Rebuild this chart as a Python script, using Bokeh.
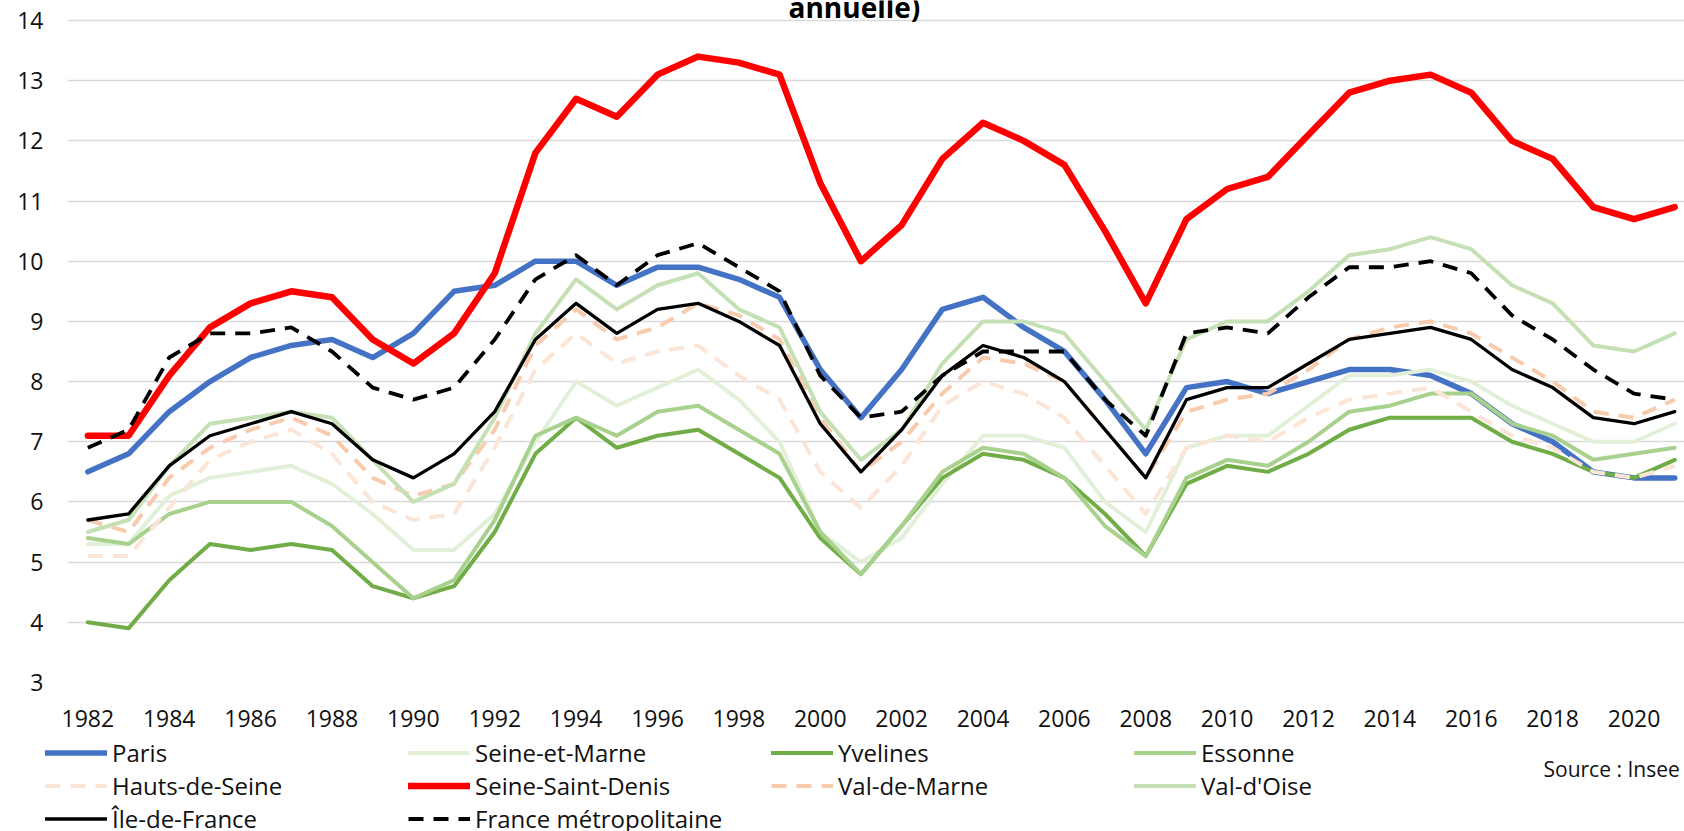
from bokeh.plotting import figure
from bokeh.layouts import column
from bokeh.models import FixedTicker, Legend, LegendItem, Label, Range1d
from bokeh.embed import file_html
from bokeh.resources import INLINE

years = list(range(1982, 2022))

paris = [6.5, 6.8, 7.5, 8.0, 8.4, 8.6, 8.7, 8.4, 8.8, 9.5, 9.6, 10.0, 10.0, 9.6, 9.9, 9.9, 9.7, 9.4, 8.2, 7.4,
         8.2, 9.2, 9.4, 8.9, 8.5, 7.7, 6.8, 7.9, 8.0, 7.8, 8.0, 8.2, 8.2, 8.1, 7.8, 7.3, 7.0, 6.5, 6.4, 6.4]
seine_et_marne = [5.3, 5.3, 6.1, 6.4, 6.5, 6.6, 6.3, 5.8, 5.2, 5.2, 5.8, 7.0, 8.0, 7.6, 7.9, 8.2, 7.7, 7.0, 5.5, 5.0,
                  5.4, 6.3, 7.1, 7.1, 6.9, 6.0, 5.5, 6.9, 7.1, 7.1, 7.6, 8.1, 8.1, 8.2, 8.0, 7.6, 7.3, 7.0, 7.0, 7.3]
yvelines = [4.0, 3.9, 4.7, 5.3, 5.2, 5.3, 5.2, 4.6, 4.4, 4.6, 5.5, 6.8, 7.4, 6.9, 7.1, 7.2, 6.8, 6.4, 5.4, 4.8,
            5.6, 6.4, 6.8, 6.7, 6.4, 5.8, 5.1, 6.3, 6.6, 6.5, 6.8, 7.2, 7.4, 7.4, 7.4, 7.0, 6.8, 6.5, 6.4, 6.7]
essonne = [5.4, 5.3, 5.8, 6.0, 6.0, 6.0, 5.6, 5.0, 4.4, 4.7, 5.7, 7.1, 7.4, 7.1, 7.5, 7.6, 7.2, 6.8, 5.5, 4.8,
           5.6, 6.5, 6.9, 6.8, 6.4, 5.6, 5.1, 6.4, 6.7, 6.6, 7.0, 7.5, 7.6, 7.8, 7.8, 7.3, 7.1, 6.7, 6.8, 6.9]
hauts_de_seine = [5.1, 5.1, 5.9, 6.7, 7.0, 7.2, 6.8, 6.0, 5.7, 5.8, 6.9, 8.2, 8.8, 8.3, 8.5, 8.6, 8.1, 7.7, 6.5, 5.9,
                  6.6, 7.6, 8.0, 7.8, 7.4, 6.6, 5.8, 6.9, 7.1, 7.0, 7.4, 7.7, 7.8, 7.9, 7.5, 7.1, 6.9, 6.5, 6.4, 6.6]
seine_saint_denis = [7.1, 7.1, 8.1, 8.9, 9.3, 9.5, 9.4, 8.7, 8.3, 8.8, 9.8, 11.8, 12.7, 12.4, 13.1, 13.4, 13.3, 13.1, 11.3, 10.0,
                     10.6, 11.7, 12.3, 12.0, 11.6, 10.5, 9.3, 10.7, 11.2, 11.4, 12.1, 12.8, 13.0, 13.1, 12.8, 12.0, 11.7, 10.9, 10.7, 10.9]
val_de_marne = [5.7, 5.5, 6.4, 6.9, 7.2, 7.4, 7.1, 6.4, 6.1, 6.3, 7.2, 8.6, 9.2, 8.7, 8.9, 9.3, 9.1, 8.7, 7.4, 6.5,
                7.0, 7.8, 8.4, 8.3, 8.0, 7.2, 6.4, 7.5, 7.7, 7.8, 8.2, 8.7, 8.9, 9.0, 8.8, 8.4, 8.0, 7.5, 7.4, 7.7]
val_d_oise = [5.5, 5.7, 6.6, 7.3, 7.4, 7.5, 7.4, 6.7, 6.0, 6.3, 7.4, 8.8, 9.7, 9.2, 9.6, 9.8, 9.2, 8.9, 7.5, 6.7,
              7.2, 8.3, 9.0, 9.0, 8.8, 8.0, 7.2, 8.7, 9.0, 9.0, 9.5, 10.1, 10.2, 10.4, 10.2, 9.6, 9.3, 8.6, 8.5, 8.8]
ile_de_france = [5.7, 5.8, 6.6, 7.1, 7.3, 7.5, 7.3, 6.7, 6.4, 6.8, 7.5, 8.7, 9.3, 8.8, 9.2, 9.3, 9.0, 8.6, 7.3, 6.5,
                 7.2, 8.1, 8.6, 8.4, 8.0, 7.2, 6.4, 7.7, 7.9, 7.9, 8.3, 8.7, 8.8, 8.9, 8.7, 8.2, 7.9, 7.4, 7.3, 7.5]
france_metro = [6.9, 7.2, 8.4, 8.8, 8.8, 8.9, 8.5, 7.9, 7.7, 7.9, 8.7, 9.7, 10.1, 9.6, 10.1, 10.3, 9.9, 9.5, 8.1, 7.4,
                7.5, 8.1, 8.5, 8.5, 8.5, 7.7, 7.1, 8.8, 8.9, 8.8, 9.4, 9.9, 9.9, 10.0, 9.8, 9.1, 8.7, 8.2, 7.8, 7.7]

names = ["Paris", "Seine-et-Marne", "Yvelines", "Essonne", "Hauts-de-Seine", "Seine-Saint-Denis",
         "Val-de-Marne", "Val-d'Oise", "Île-de-France", "France métropolitaine"]
values = [paris, seine_et_marne, yvelines, essonne, hauts_de_seine, seine_saint_denis,
          val_de_marne, val_d_oise, ile_de_france, france_metro]
colors = ["#4472c4", "#e2f0d9", "#70ad47", "#a9d18e", "#fbe5d6", "#ff0000",
          "#f8cbad", "#c5e0b4", "#000000", "#000000"]
widths = [5.5, 4, 4, 4, 4, 6.5, 4, 4, 3.3, 3.8]
dashes = ["solid", "solid", "solid", "solid", "15 10", "solid", "15 10", "solid", "solid", "15 10"]

x_ticks = list(range(1982, 2021, 2))
y_ticks = list(range(3, 15))

title_text = "annuelle)"
source_text = "Source : Insee"

FONT = "Open Sans"
W = 1684
H_MAIN = 736
H_LEG = 831 - H_MAIN

p = figure(width=W, height=H_MAIN, output_backend="svg", toolbar_location=None,
           x_range=Range1d(1981.5, 2021.24), y_range=Range1d(3, 14.332),
           min_border_left=67, min_border_right=0, min_border_top=0, min_border_bottom=H_MAIN - 682)
p.outline_line_color = None
p.background_fill_color = "white"
p.border_fill_color = "white"
p.frame_align = False

p.xaxis.ticker = FixedTicker(ticks=x_ticks)
p.yaxis.ticker = FixedTicker(ticks=y_ticks)
for ax in (p.xaxis[0], p.yaxis[0]):
    ax.axis_line_color = None
    ax.major_tick_line_color = None
    ax.minor_tick_line_color = None
    ax.major_tick_out = 0
    ax.major_tick_in = 0
    ax.major_label_text_font = FONT
    ax.major_label_text_font_size = "23px"
    ax.major_label_text_color = "#111111"
p.xaxis.major_label_standoff = 27
p.yaxis.major_label_standoff = 24

p.xgrid.grid_line_color = None
p.ygrid.grid_line_color = "#d9d9d9"
p.ygrid.grid_line_width = 1.5

for vals, col, w, d in zip(values, colors, widths, dashes):
    if d == "solid":
        p.line(years, vals, line_color=col, line_width=w, line_join="round", line_cap="round")
    else:
        p.line(years, vals, line_color=col, line_width=w, line_dash=d, line_join="round")

p.add_layout(Label(x=2000.84, y=14.232, text=title_text, text_align="center", text_baseline="alphabetic",
                   text_font=FONT, text_font_style="bold", text_font_size="28px", text_color="#000000"))

# legend strip below the chart (its own frame, spanning the full width)
p2 = figure(width=W, height=H_LEG, output_backend="svg", toolbar_location=None,
            x_range=Range1d(0, W), y_range=Range1d(0, H_LEG),
            x_axis_location=None, y_axis_location=None,
            min_border_left=0, min_border_right=0, min_border_top=0, min_border_bottom=0)
p2.frame_align = False
p2.outline_line_color = None
p2.xgrid.grid_line_color = None
p2.ygrid.grid_line_color = None
p2.background_fill_color = "white"
p2.border_fill_color = "white"

# legend proxies: same series, lying outside this strip's x range (so only the legend shows them)
proxies = []
for vals, col, w, d in zip(values, colors, widths, dashes):
    if d == "solid":
        r = p2.line(years, vals, line_color=col, line_width=w, line_cap="round")
    else:
        r = p2.line(years, vals, line_color=col, line_width=w, line_dash=d)
    proxies.append(r)

items = [LegendItem(label=n, renderers=[r]) for n, r in zip(names, proxies)]
legend = Legend(items=items, orientation="horizontal", ncols=4, location=(45, -3.5),
                glyph_width=62, glyph_height=33, label_height=33, label_width=296,
                label_standoff=5, spacing=0, padding=0, margin=0,
                border_line_color=None, background_fill_alpha=0,
                label_text_font=FONT, label_text_font_size="24px", label_text_color="#111111")
p2.add_layout(legend)

p2.add_layout(Label(x=1543, y=H_LEG - 32, text=source_text, text_align="left", text_baseline="middle",
                    text_font=FONT, text_font_size="21px", text_color="#111111"))

layout = column(p, p2, spacing=0)
open("out.html", "w").write(file_html(layout, INLINE))
